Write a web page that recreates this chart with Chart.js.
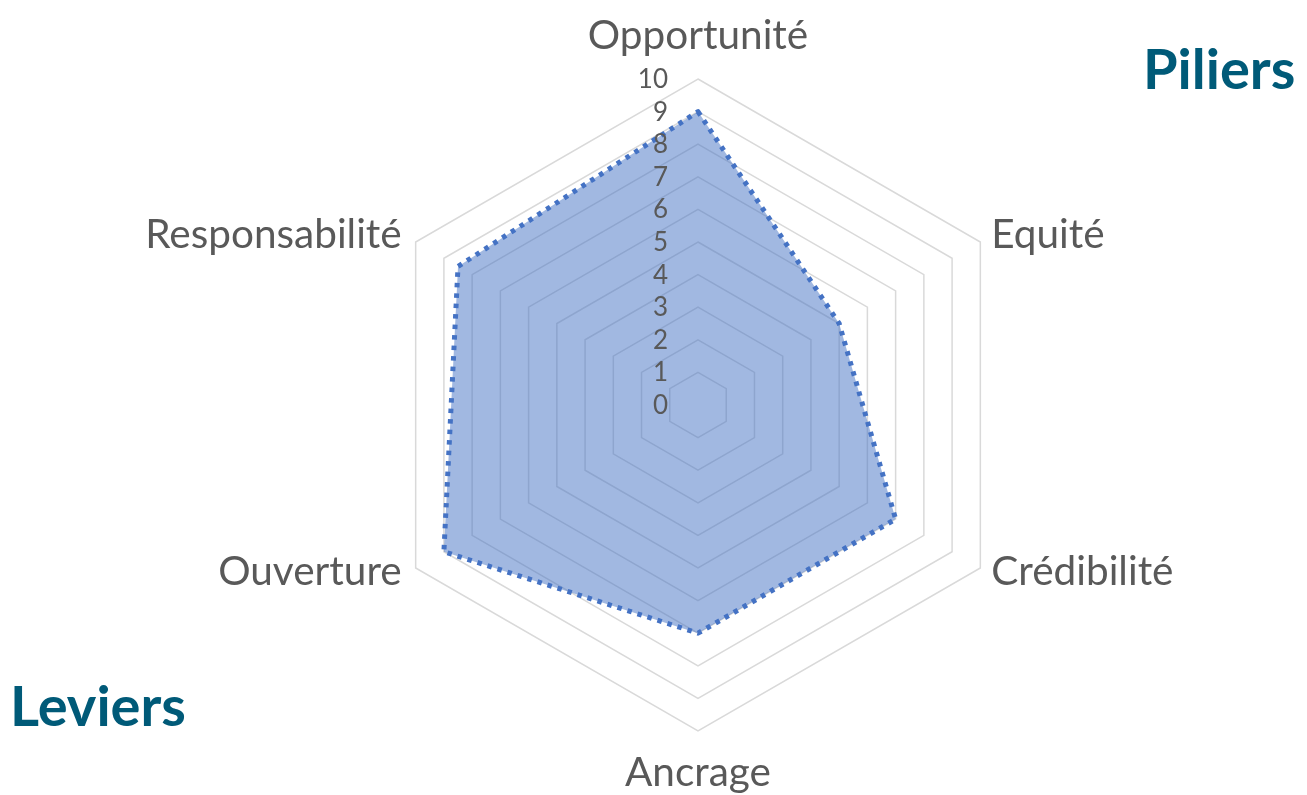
<!DOCTYPE html>
<html>
<head>
<meta charset="utf-8">
<script src="https://cdn.jsdelivr.net/npm/chart.js@4.4.1/dist/chart.umd.min.js"></script>
<style>
  html, body { margin: 0; padding: 0; background: #ffffff; }
  #wrap { position: relative; width: 1307px; height: 795px; overflow: hidden; }
  #c { position: absolute; left: 0; top: 0; }
  .title { position: absolute; font-family: Lato, sans-serif; font-weight: 700; font-size: 56px; line-height: 56px; color: #005a78; white-space: nowrap; }
</style>
</head>
<body>
<div id="wrap">
  <canvas id="c" width="1307" height="795"></canvas>
  <div class="title" style="left:1143px; top:40px;">Piliers</div>
  <div class="title" style="left:10px; top:677px;">Leviers</div>
</div>
<script>
const categories = ['Opportunité', 'Equité', 'Crédibilité', 'Ancrage', 'Ouverture', 'Responsabilité'];
const scores = [9, 5, 7, 7, 9, 8.5];
const tickValues = [0, 1, 2, 3, 4, 5, 6, 7, 8, 9, 10];
const tickLabels = ['0', '1', '2', '3', '4', '5', '6', '7', '8', '9', '10'];

const labelPlugin = {
  id: 'excelLabels',
  afterDatasetsDraw(chart) {
    const s = chart.scales.r;
    const ctx = chart.ctx;
    ctx.save();
    ctx.fillStyle = '#595959';
    // tick labels, left of the vertical axis
    ctx.font = '26px Lato';
    ctx.textAlign = 'right';
    ctx.textBaseline = 'alphabetic';
    s.ticks.forEach((t, i) => {
      const y = s.yCenter - s.getDistanceFromCenterForValue(t.value);
      ctx.fillText(tickLabels[i], s.xCenter - 30, y + 9);
    });
    // category labels
    ctx.font = '40.5px Lato';
    chart.data.labels.forEach((lab, i) => {
      const p = s.getPointPosition(i, s.drawingArea);
      const dx = p.x - s.xCenter, dy = p.y - s.yCenter;
      let x = p.x, y;
      if (Math.abs(dx) < 1) {
        ctx.textAlign = 'center';
        y = dy < 0 ? p.y - 30 : p.y + 55;
      } else {
        ctx.textAlign = dx > 0 ? 'left' : 'right';
        x = p.x + (dx > 0 ? 11 : -14);
        y = p.y + 11.5 + 5.5 * Math.sign(dy);
      }
      ctx.fillText(lab, x, y);
    });
    ctx.restore();
  }
};

function build() {
  new Chart(document.getElementById('c'), {
    type: 'radar',
    data: {
      labels: categories,
      datasets: [{
        data: scores,
        backgroundColor: 'rgba(68,114,196,0.5)',
        borderColor: '#4472C4',
        borderWidth: 5,
        borderDash: [4.5, 6],
        borderCapStyle: 'butt',
        borderJoinStyle: 'round',
        pointRadius: 0,
        pointHoverRadius: 0,
        fill: true,
        tension: 0
      }]
    },
    options: {
      responsive: false,
      animation: false,
      devicePixelRatio: 1,
      layout: { padding: { top: 79, bottom: 64, left: 372, right: 283 } },
      plugins: { legend: { display: false }, title: { display: false }, tooltip: { enabled: false } },
      scales: {
        r: {
          min: 0,
          max: 10,
          afterBuildTicks: (scale) => { scale.ticks = tickValues.map(v => ({ value: v })); },
          ticks: { display: false },
          grid: { color: '#d9d9d9', lineWidth: 1.5, circular: false },
          angleLines: { display: false },
          pointLabels: { display: false }
        }
      }
    },
    plugins: [labelPlugin]
  });
}

if (document.fonts && document.fonts.load) {
  Promise.all([document.fonts.load('40px Lato'), document.fonts.load('bold 56px Lato')]).then(build, build);
} else {
  build();
}
</script>
</body>
</html>
